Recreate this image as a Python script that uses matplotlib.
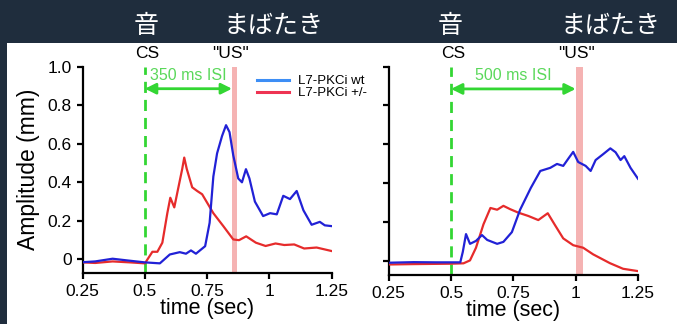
import numpy as np
import matplotlib.pyplot as plt
from matplotlib.lines import Line2D
from matplotlib.patches import Rectangle

# --- data ---------------------------------------------------------------
# left panel (350 ms ISI)
t_l_wt = [0.25, 0.30, 0.37, 0.43, 0.50, 0.56, 0.60, 0.64, 0.665, 0.685, 0.705, 0.742, 0.76,
          0.775, 0.79, 0.81, 0.826, 0.84, 0.855, 0.875, 0.89, 0.906, 0.92, 0.942, 0.975,
          1.003, 1.03, 1.056, 1.083, 1.11, 1.137, 1.17, 1.203, 1.223, 1.25]
a_l_wt = [-0.014, -0.01, 0.004, -0.005, -0.015, -0.02, 0.026, 0.038, 0.03, 0.047, 0.03, 0.069, 0.19,
          0.43, 0.55, 0.64, 0.696, 0.66, 0.54, 0.42, 0.40, 0.468, 0.42, 0.30, 0.225,
          0.24, 0.234, 0.33, 0.313, 0.355, 0.255, 0.18, 0.195, 0.177, 0.173]
t_l_het = [0.25, 0.30, 0.37, 0.44, 0.50, 0.53, 0.55, 0.57, 0.59, 0.602, 0.618, 0.633, 0.65,
           0.658, 0.668, 0.69, 0.71, 0.73, 0.775, 0.815, 0.855, 0.878, 0.907, 0.946, 0.985,
           1.025, 1.06, 1.10, 1.14, 1.19, 1.25]
a_l_het = [-0.015, -0.018, -0.01, -0.015, -0.02, 0.04, 0.04, 0.087, 0.24, 0.32, 0.27, 0.364, 0.47,
           0.528, 0.47, 0.374, 0.355, 0.338, 0.24, 0.173, 0.104, 0.10, 0.12, 0.087, 0.07,
           0.083, 0.075, 0.078, 0.057, 0.062, 0.044]

# right panel (500 ms ISI)
t_r_wt = [0.25, 0.35, 0.44, 0.537, 0.547, 0.56, 0.576, 0.60, 0.624, 0.645, 0.685, 0.71, 0.744,
          0.777, 0.82, 0.858, 0.898, 0.925, 0.95, 0.972, 0.99, 1.01, 1.04, 1.06, 1.08, 1.11,
          1.139, 1.16, 1.18, 1.195, 1.22, 1.25]
a_r_wt = [-0.007, -0.004, -0.005, -0.005, 0.048, 0.14, 0.09, 0.105, 0.135, 0.11, 0.09, 0.10, 0.15,
          0.265, 0.377, 0.464, 0.48, 0.50, 0.49, 0.53, 0.562, 0.51, 0.49, 0.464, 0.52, 0.55,
          0.58, 0.56, 0.52, 0.54, 0.48, 0.424]
t_r_het = [0.25, 0.35, 0.50, 0.55, 0.576, 0.60, 0.63, 0.658, 0.685, 0.71, 0.737, 0.77, 0.81,
           0.85, 0.888, 0.917, 0.95, 0.99, 1.03, 1.07, 1.137, 1.19, 1.25]
a_r_het = [-0.016, -0.014, -0.012, -0.01, 0.005, 0.07, 0.19, 0.274, 0.265, 0.285, 0.268, 0.25, 0.233,
           0.212, 0.247, 0.186, 0.118, 0.083, 0.07, 0.036, -0.009, -0.038, -0.05]

cs_time = 0.5
us_left = (0.85, 0.872)
us_right = (1.0, 1.028)
isi_labels = ['350 ms ISI', '500 ms ISI']
legend_labels = ['L7-PKCi wt', 'L7-PKCi +/-']
xticks = [0.25, 0.5, 0.75, 1.0, 1.25]
xticklabels = ['0.25', '0.5', '0.75', '1', '1.25']
yticks = [0, 0.2, 0.4, 0.6, 0.8, 1.0]
yticklabels = ['0', '0.2', '0.4', '0.6', '0.8', '1.0']

# --- style ---------------------------------------------------------------
plt.rcParams['font.family'] = ['Liberation Sans', 'DejaVu Sans']
blue = '#2121d6'
red = '#e62b2b'
green = '#33d633'
green_txt = '#5ad85a'
pink = '#f5b3b3'

fig = plt.figure(figsize=(6.77, 3.24), dpi=100, facecolor='#1f2d3d')
fig.patches.append(Rectangle((7 / 677, 0), 1, 1 - 43 / 324, transform=fig.transFigure,
                             facecolor='white', edgecolor='none', zorder=-10))

ax_l = fig.add_axes([0.1222, 0.1574, 0.3675, 0.6373])
ax_r = fig.add_axes([0.5742, 0.1512, 0.3682, 0.6435])

panels = [
    (ax_l, t_l_wt, a_l_wt, t_l_het, a_l_het, us_left, isi_labels[0], 0.845),
    (ax_r, t_r_wt, a_r_wt, t_r_het, a_r_het, us_right, isi_labels[1], 1.005),
]

for ax, tw, aw, th, ah, us, isi, us_x in panels:
    ax.set_facecolor('none')
    ax.axvspan(us[0], us[1], color=pink, lw=0, zorder=1)
    ax.axvline(cs_time, color=green, lw=2, dashes=(4, 2.5), zorder=2)
    ax.plot(th, ah, color=red, lw=1.6, zorder=3)
    ax.plot(tw, aw, color=blue, lw=1.6, zorder=4)

    ax.annotate('', xy=(cs_time, 0.885), xytext=(us[0], 0.885),
                arrowprops=dict(arrowstyle='<|-|>', color=green, lw=2, mutation_scale=16,
                                shrinkA=0, shrinkB=0))
    ax.text((cs_time + us[0]) / 2, 0.955, isi, color=green_txt, fontsize=11.5,
            ha='center', va='center')
    ax.text(cs_time + 0.01, 1.065, 'CS', fontsize=12.5, ha='center', va='center', clip_on=False)
    ax.text(us_x, 1.065, '"US"', fontsize=12.5, ha='center', va='center', clip_on=False)

    ax.set_xlim(0.25, 1.25)
    ax.set_ylim(-0.07, 1.0)
    ax.spines['top'].set_visible(False)
    ax.spines['right'].set_visible(False)
    ax.spines['left'].set_linewidth(1.6)
    ax.spines['bottom'].set_linewidth(1.6)
    ax.set_xticks(xticks)
    ax.set_xticklabels(xticklabels)
    ax.set_yticks(yticks)
    ax.tick_params(direction='out', length=4, width=1.6, labelsize=12.5, pad=4)
    ax.set_xlabel('time (sec)', fontsize=15.5, labelpad=-1)

ax_l.set_yticklabels(yticklabels)
ax_r.set_yticklabels([])
ax_l.set_ylabel('Amplitude (mm)', fontsize=16.5, labelpad=5)

handles = [Line2D([], [], color='#3d8ef5', lw=2.2), Line2D([], [], color='#ee3352', lw=2.2)]
ax_l.legend(handles, legend_labels, loc='upper left', bbox_to_anchor=(0.68, 0.985),
            frameon=False, fontsize=9.5, labelspacing=0.0, handlelength=2.4,
            handletextpad=0.7, borderaxespad=0)

# top labels on the slide background
for x, s in [(0.2157, '音'), (0.404, 'まばたき'), (0.6654, '音'), (0.9018, 'まばたき')]:
    fig.text(x, 0.92, s, color='white', fontsize=18, ha='center', va='center',
             family=['Noto Sans CJK JP', 'DejaVu Sans'])

fig.savefig('out.png', dpi=100, facecolor=fig.get_facecolor())
